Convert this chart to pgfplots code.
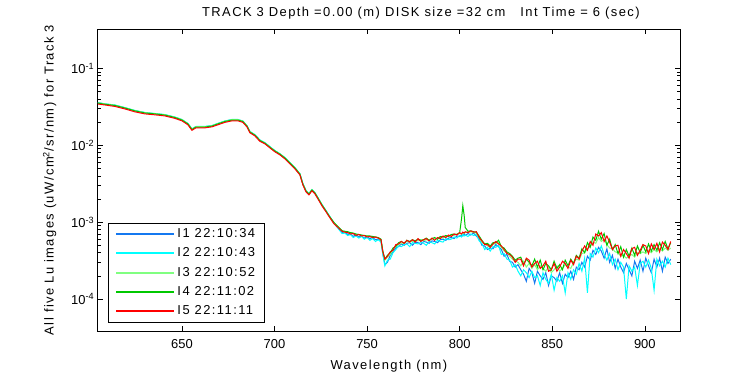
\documentclass[border=0pt]{standalone}
\usepackage{fontspec}
\setmainfont{Liberation Sans}[LetterSpace=11]
\newfontfamily\tickfont{Liberation Sans}
\usepackage{pgfplots}
\usepackage{pgfplotstable}
\pgfplotsset{compat=1.18}
\definecolor{cIa}{RGB}{20,120,240}
\definecolor{cIb}{RGB}{0,255,255}
\definecolor{cIc}{RGB}{128,255,128}
\definecolor{cId}{RGB}{0,200,0}
\definecolor{cIe}{RGB}{255,0,0}
\pgfplotstableread{
x I1 I2 I3 I4 I5
604.6 3.55e-2 3.58e-2 3.56e-2 3.52e-2 3.43e-2
608.4 3.42e-2 3.45e-2 3.44e-2 3.40e-2 3.33e-2
613.8 3.30e-2 3.33e-2 3.31e-2 3.28e-2 3.19e-2
619.2 3.06e-2 3.08e-2 3.07e-2 3.04e-2 2.96e-2
624.6 2.80e-2 2.83e-2 2.81e-2 2.79e-2 2.71e-2
630.0 2.64e-2 2.66e-2 2.65e-2 2.62e-2 2.55e-2
635.4 2.56e-2 2.58e-2 2.57e-2 2.55e-2 2.48e-2
640.8 2.48e-2 2.50e-2 2.49e-2 2.46e-2 2.40e-2
646.2 2.30e-2 2.32e-2 2.31e-2 2.29e-2 2.23e-2
650.0 2.14e-2 2.16e-2 2.15e-2 2.12e-2 2.07e-2
653.2 1.90e-2 1.92e-2 1.91e-2 1.89e-2 1.84e-2
655.4 1.62e-2 1.63e-2 1.62e-2 1.60e-2 1.56e-2
657.6 1.74e-2 1.75e-2 1.74e-2 1.72e-2 1.68e-2
662.4 1.74e-2 1.75e-2 1.74e-2 1.72e-2 1.68e-2
666.2 1.79e-2 1.80e-2 1.79e-2 1.77e-2 1.73e-2
669.4 1.90e-2 1.92e-2 1.91e-2 1.89e-2 1.84e-2
673.2 2.05e-2 2.06e-2 2.05e-2 2.03e-2 1.98e-2
677.0 2.14e-2 2.16e-2 2.15e-2 2.12e-2 2.07e-2
680.2 2.14e-2 2.16e-2 2.15e-2 2.12e-2 2.07e-2
682.9 2.05e-2 2.06e-2 2.05e-2 2.03e-2 1.98e-2
685.1 1.79e-2 1.80e-2 1.79e-2 1.77e-2 1.73e-2
686.7 1.50e-2 1.51e-2 1.50e-2 1.48e-2 1.45e-2
689.4 1.36e-2 1.37e-2 1.36e-2 1.35e-2 1.32e-2
692.1 1.16e-2 1.17e-2 1.16e-2 1.15e-2 1.12e-2
694.8 1.07e-2 1.08e-2 1.07e-2 1.06e-2 1.04e-2
697.5 9.50e-3 9.60e-3 9.50e-3 9.40e-3 9.22e-3
700.2 8.45e-3 8.50e-3 8.45e-3 8.40e-3 8.19e-3
702.9 7.70e-3 7.75e-3 7.72e-3 7.65e-3 7.48e-3
705.6 6.85e-3 6.90e-3 6.87e-3 6.80e-3 6.64e-3
708.3 5.90e-3 5.93e-3 5.91e-3 5.86e-3 5.71e-3
711.0 5.08e-3 5.10e-3 5.09e-3 5.05e-3 4.92e-3
713.7 4.24e-3 4.26e-3 4.25e-3 4.20e-3 4.11e-3
715.3 3.15e-3 3.17e-3 3.16e-3 3.12e-3 3.05e-3
717.0 2.55e-3 2.57e-3 2.56e-3 2.53e-3 2.47e-3
718.6 2.33e-3 2.35e-3 2.34e-3 2.31e-3 2.26e-3
720.2 2.63e-3 2.65e-3 2.64e-3 2.61e-3 2.55e-3
721.8 2.40e-3 2.42e-3 2.41e-3 2.39e-3 2.33e-3
723.4 2.07e-3 2.09e-3 2.08e-3 2.06e-3 2.01e-3
725.6 1.68e-3 1.70e-3 1.69e-3 1.67e-3 1.63e-3
727.8 1.40e-3 1.41e-3 1.40e-3 1.39e-3 1.36e-3
729.9 1.17e-3 1.18e-3 1.17e-3 1.16e-3 1.14e-3
732.1 9.70e-4 9.80e-4 9.75e-4 9.90e-4 9.51e-4
735.0 8.0e-4 7.9e-4 8.3e-4 8.4e-4 8.2e-4
736.5 7.3e-4 7.1e-4 7.8e-4 7.7e-4 7.6e-4
738.0 7.5e-4 7.2e-4 7.3e-4 7.6e-4 7.4e-4
739.5 6.9e-4 6.7e-4 7.4e-4 7.5e-4 7.3e-4
741.0 7.0e-4 6.9e-4 7.2e-4 7.3e-4 7.0e-4
742.5 6.5e-4 6.3e-4 7.1e-4 7.2e-4 7.1e-4
744.0 6.9e-4 6.6e-4 6.8e-4 7.0e-4 6.7e-4
745.5 6.4e-4 6.2e-4 6.9e-4 6.9e-4 6.9e-4
747.0 6.6e-4 6.5e-4 6.6e-4 6.8e-4 6.6e-4
748.5 6.2e-4 6.0e-4 6.7e-4 6.7e-4 6.7e-4
750.0 6.4e-4 6.3e-4 6.5e-4 6.6e-4 6.4e-4
751.5 6.1e-4 5.8e-4 6.5e-4 6.6e-4 6.5e-4
753.0 6.3e-4 6.1e-4 6.3e-4 6.5e-4 6.3e-4
754.5 5.9e-4 5.6e-4 6.4e-4 6.4e-4 6.4e-4
756.0 6.0e-4 5.9e-4 6.2e-4 6.3e-4 6.2e-4
757.5 5.7e-4 5.5e-4 5.9e-4 6.0e-4 5.9e-4
758.5 3.9e-4 3.8e-4 4.1e-4 4.2e-4 4.1e-4
759.6 2.8e-4 2.7e-4 3.2e-4 3.3e-4 3.3e-4
761.0 3.0e-4 3.2e-4 3.5e-4 3.7e-4 3.6e-4
762.5 3.7e-4 3.3e-4 3.8e-4 4.0e-4 4.1e-4
764.0 4.1e-4 4.0e-4 4.4e-4 4.6e-4 4.3e-4
765.5 4.6e-4 4.4e-4 4.9e-4 4.8e-4 5.1e-4
767.0 4.8e-4 4.9e-4 5.1e-4 5.4e-4 5.2e-4
768.5 5.2e-4 4.8e-4 5.3e-4 5.6e-4 5.6e-4
770.0 5.0e-4 5.1e-4 5.4e-4 5.3e-4 5.3e-4
771.5 5.3e-4 5.2e-4 5.6e-4 5.8e-4 5.8e-4
773.0 5.4e-4 4.8e-4 5.5e-4 5.6e-4 5.5e-4
774.5 5.0e-4 5.4e-4 5.6e-4 5.9e-4 5.9e-4
776.0 5.5e-4 5.3e-4 5.8e-4 5.7e-4 5.5e-4
777.5 5.4e-4 5.2e-4 5.7e-4 6.0e-4 6.1e-4
779.0 5.1e-4 5.5e-4 5.9e-4 5.8e-4 5.6e-4
780.5 5.6e-4 5.3e-4 5.7e-4 5.9e-4 5.9e-4
782.0 5.5e-4 5.0e-4 5.9e-4 6.2e-4 6.1e-4
783.5 5.3e-4 5.6e-4 5.8e-4 5.8e-4 5.7e-4
785.0 5.7e-4 5.4e-4 6.0e-4 6.1e-4 6.2e-4
786.5 5.6e-4 5.2e-4 6.1e-4 6.3e-4 5.8e-4
788.0 5.4e-4 5.8e-4 6.0e-4 6.0e-4 6.3e-4
789.5 5.9e-4 5.6e-4 6.3e-4 6.5e-4 6.1e-4
791.0 6.0e-4 5.5e-4 6.2e-4 6.4e-4 6.6e-4
792.5 5.8e-4 6.1e-4 6.5e-4 6.7e-4 6.3e-4
794.0 6.2e-4 5.9e-4 6.6e-4 6.5e-4 6.8e-4
795.5 6.3e-4 6.0e-4 6.8e-4 6.9e-4 6.5e-4
797.0 6.1e-4 6.4e-4 6.7e-4 7.0e-4 7.0e-4
798.5 6.6e-4 6.2e-4 7.0e-4 6.9e-4 6.8e-4
800.0 6.5e-4 6.7e-4 7.1e-4 7.3e-4 7.3e-4
801.0 6.8e-4 6.4e-4 7.0e-4 1.10e-3 7.0e-4
801.7 6.6e-4 6.9e-4 7.2e-4 1.63e-3 7.4e-4
802.4 7.0e-4 6.6e-4 7.1e-4 1.24e-3 7.2e-4
803.0 6.7e-4 6.8e-4 7.3e-4 8.5e-4 7.5e-4
804.5 7.1e-4 6.5e-4 7.4e-4 7.6e-4 7.3e-4
806.0 6.8e-4 7.0e-4 7.5e-4 7.7e-4 7.7e-4
807.5 7.2e-4 6.7e-4 7.3e-4 7.5e-4 7.4e-4
809.0 6.6e-4 6.9e-4 7.2e-4 7.4e-4 7.5e-4
810.5 6.1e-4 5.7e-4 6.3e-4 6.6e-4 6.3e-4
812.0 5.0e-4 5.3e-4 5.5e-4 5.8e-4 5.7e-4
813.5 4.9e-4 4.4e-4 5.2e-4 5.2e-4 5.1e-4
815.0 4.4e-4 4.7e-4 4.9e-4 5.3e-4 5.1e-4
816.5 4.6e-4 4.2e-4 4.8e-4 4.9e-4 4.7e-4
818.0 4.5e-4 4.8e-4 5.1e-4 5.4e-4 5.2e-4
819.5 5.1e-4 4.7e-4 5.3e-4 5.4e-4 5.6e-4
821.0 4.8e-4 5.0e-4 5.4e-4 5.8e-4 5.2e-4
822.5 4.4e-4 3.8e-4 4.7e-4 4.8e-4 4.9e-4
824.0 3.6e-4 3.9e-4 4.2e-4 4.6e-4 4.4e-4
825.5 3.8e-4 3.3e-4 4.0e-4 4.1e-4 3.9e-4
827.0 3.1e-4 3.2e-4 3.6e-4 3.9e-4 3.8e-4
828.5 3.0e-4 2.6e-4 3.3e-4 3.6e-4 3.5e-4
830.0 2.6e-4 2.8e-4 3.1e-4 3.2e-4 3.0e-4
831.5 2.8e-4 2.3e-4 3.0e-4 3.4e-4 3.3e-4
833.0 2.4e-4 2.0e-4 2.7e-4 3.5e-4 3.3e-4
834.5 2.1e-4 2.4e-4 3.1e-4 2.8e-4 2.7e-4
836.0 1.7e-4 2.2e-4 2.6e-4 3.3e-4 3.4e-4
837.5 2.5e-4 1.9e-4 2.9e-4 3.0e-4 3.2e-4
839.0 2.2e-4 2.3e-4 2.5e-4 2.7e-4 2.6e-4
840.5 1.6e-4 1.9e-4 2.8e-4 3.3e-4 2.9e-4
842.0 2.3e-4 2.0e-4 2.4e-4 2.6e-4 3.1e-4
843.5 2.0e-4 1.5e-4 2.7e-4 3.2e-4 2.5e-4
845.0 1.8e-4 2.2e-4 2.5e-4 2.4e-4 2.7e-4
846.5 2.2e-4 1.8e-4 2.3e-4 2.9e-4 3.1e-4
848.0 1.5e-4 1.6e-4 2.6e-4 2.7e-4 2.3e-4
849.5 2.0e-4 2.1e-4 2.2e-4 2.4e-4 2.4e-4
851.0 1.9e-4 1.3e-4 2.4e-4 3.1e-4 2.9e-4
852.5 1.7e-4 1.9e-4 2.7e-4 2.5e-4 2.3e-4
854.0 2.2e-4 1.7e-4 2.3e-4 2.8e-4 2.6e-4
855.5 1.6e-4 2.0e-4 2.5e-4 2.4e-4 3.1e-4
857.0 2.1e-4 1.2e-4 2.8e-4 3.2e-4 2.9e-4
858.5 1.9e-4 2.2e-4 2.6e-4 2.7e-4 2.5e-4
860.0 2.3e-4 1.8e-4 2.5e-4 3.3e-4 3.2e-4
861.5 1.8e-4 2.4e-4 3.0e-4 2.9e-4 2.8e-4
863.0 2.6e-4 2.1e-4 3.3e-4 3.7e-4 3.6e-4
864.5 2.4e-4 2.9e-4 3.2e-4 3.4e-4 3.3e-4
866.0 3.0e-4 2.3e-4 3.9e-4 4.5e-4 4.2e-4
867.5 2.6e-4 3.4e-4 4.0e-4 4.0e-4 4.9e-4
869.0 3.6e-4 1.2e-4 4.5e-4 5.4e-4 4.3e-4
870.5 3.2e-4 3.9e-4 4.8e-4 4.7e-4 5.6e-4
872.0 4.3e-4 3.5e-4 5.5e-4 6.4e-4 5.0e-4
873.5 3.8e-4 4.6e-4 5.3e-4 5.8e-4 7.0e-4
875.0 4.7e-4 4.0e-4 6.3e-4 7.6e-4 6.6e-4
876.5 4.2e-4 4.9e-4 5.6e-4 6.0e-4 7.3e-4
878.0 3.4e-4 3.8e-4 6.0e-4 7.1e-4 5.6e-4
879.5 4.5e-4 3.2e-4 5.1e-4 5.0e-4 6.6e-4
881.0 3.0e-4 3.9e-4 4.6e-4 6.0e-4 5.5e-4
882.5 3.7e-4 2.8e-4 4.5e-4 4.4e-4 4.4e-4
884.0 2.5e-4 3.3e-4 4.1e-4 5.1e-4 4.9e-4
885.5 3.3e-4 2.4e-4 4.0e-4 3.9e-4 5.0e-4
887.0 2.6e-4 3.0e-4 3.6e-4 4.8e-4 3.6e-4
888.5 2.2e-4 2.6e-4 3.7e-4 3.5e-4 4.4e-4
890.0 2.9e-4 1.0e-4 3.4e-4 4.4e-4 3.9e-4
891.5 2.4e-4 2.7e-4 3.6e-4 3.6e-4 3.4e-4
893.0 2.0e-4 2.3e-4 3.8e-4 4.6e-4 4.5e-4
894.5 3.1e-4 2.6e-4 3.5e-4 3.7e-4 4.7e-4
896.0 2.5e-4 1.5e-4 4.0e-4 4.9e-4 3.7e-4
897.5 3.2e-4 2.9e-4 3.9e-4 4.0e-4 4.3e-4
899.0 2.3e-4 3.1e-4 4.1e-4 5.0e-4 5.1e-4
900.5 3.4e-4 2.6e-4 3.9e-4 4.1e-4 4.9e-4
902.0 2.7e-4 3.2e-4 4.3e-4 5.2e-4 3.9e-4
903.5 2.2e-4 2.5e-4 4.0e-4 4.2e-4 5.2e-4
905.0 3.3e-4 1.3e-4 4.4e-4 5.1e-4 4.4e-4
906.5 2.6e-4 3.3e-4 4.1e-4 4.3e-4 5.3e-4
908.0 3.4e-4 2.7e-4 4.5e-4 5.4e-4 4.1e-4
909.5 2.3e-4 3.1e-4 4.2e-4 4.4e-4 5.5e-4
911.0 3.5e-4 2.6e-4 4.6e-4 5.6e-4 5.0e-4
912.5 2.9e-4 3.4e-4 4.3e-4 4.5e-4 4.4e-4
914.0 3.3e-4 2.8e-4 4.6e-4 5.4e-4 5.6e-4
}\spec
\begin{document}
\begin{tikzpicture}[font=\fontsize{13}{15}\selectfont]
\path[use as bounding box] (-97.7bp,-44bp) rectangle (652.3bp,331bp);
\begin{axis}[
  scale only axis, width=582.3bp, height=302bp,
  xmin=604.5, xmax=919, ymode=log, ymin=3.84e-5, ymax=0.3236,
  xtick={650,700,750,800,850,900},
  ytick={1e-4,1e-3,1e-2,1e-1},
  yticklabels={{10\textsuperscript{-4}},{10\textsuperscript{-3}},{10\textsuperscript{-2}},{10\textsuperscript{-1}}},
  /pgf/number format/assume math mode=true,
  ticklabel style={font=\tickfont\fontsize{13}{15}\selectfont},
  xticklabel style={yshift=-5bp},
  tick style={black, line width=0.5bp},
  major tick length=5bp, minor tick length=3bp,
  axis line style={black, line width=0.6bp},
  xlabel={Wavelength (nm)},
  xlabel style={yshift=-5bp},
  ylabel={All five Lu images (uW/cm\textsuperscript{2}/sr/nm) for Track 3},
  ylabel style={yshift=8bp},
  title={TRACK 3 Depth =0.00 (m) DISK size =32 cm\ \ \ Int Time = 6 (sec)},
  title style={at={(0.555,1)}, anchor=south, yshift=0bp},
  legend style={at={(0.018,0.029)}, anchor=south west, draw=black, fill=white, line width=0.6bp,
    font=\fontsize{13}{15}\selectfont, inner xsep=7bp, inner ysep=2bp, row sep=2.4bp,
    nodes={inner sep=2bp, text height=10bp, text depth=3bp}},
  legend cell align=left,
  legend image code/.code={\draw[#1, line width=2bp] (0bp,0bp) -- (58bp,0bp);},
  every axis plot/.append style={line width=1bp},
]
\addplot[cIa] table[x=x,y=I1]{\spec};
\addplot[cIb] table[x=x,y=I2]{\spec};
\addplot[cIc] table[x=x,y=I3]{\spec};
\addplot[cId] table[x=x,y=I4]{\spec};
\addplot[cIe] table[x=x,y=I5]{\spec};
\legend{I1 22:10:34,I2 22:10:43,I3 22:10:52,I4 22:11:02,I5 22:11:11}
\end{axis}
\end{tikzpicture}
\end{document}
